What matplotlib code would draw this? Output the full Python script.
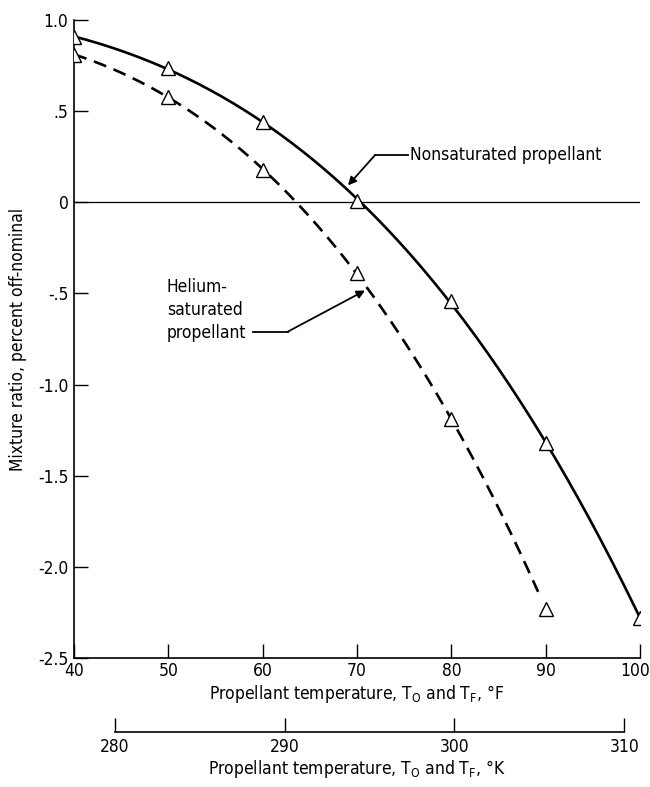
import numpy as np
import matplotlib.pyplot as plt
import matplotlib.transforms as mtransforms

plt.rcParams['font.family'] = ['DejaVu Sans']
plt.rcParams['font.stretch'] = 'condensed'
plt.rcParams['mathtext.default'] = 'regular'

# data
temp_F = [40, 50, 60, 70, 80, 90, 100]
nonsat = [0.907, 0.736, 0.44, 0.005, -0.544, -1.32, -2.28]
temp_F_he = [40, 50, 60, 70, 80, 90]
helium = [0.81, 0.58, 0.176, -0.39, -1.19, -2.23]

yticks = [1.0, 0.5, 0, -0.5, -1.0, -1.5, -2.0, -2.5]
ytick_labels = ['1.0', '.5', '0', '-.5', '-1.0', '-1.5', '-2.0', '-2.5']
xticks = [40, 50, 60, 70, 80, 90, 100]
kticks = [280, 290, 300, 310]


def f_to_k(f):
	return (np.asarray(f) - 32.) * 5. / 9. + 273.15


fig = plt.figure(figsize=(6.5, 7.87), dpi=100)
ax = fig.add_axes([0.1138, 0.1639, 0.8708, 0.8107])

# smooth faired curves through the points
c1 = np.polyfit(temp_F, nonsat, 3)
xs1 = np.linspace(40, 100, 200)
ax.plot(xs1, np.polyval(c1, xs1), color='black', lw=1.9, zorder=3)

c2 = np.polyfit(temp_F_he, helium, 3)
xs2 = np.linspace(40, 89.2, 200)
ax.plot(xs2, np.polyval(c2, xs2), color='black', lw=1.9, ls=(0, (5, 3)), zorder=3)

ax.plot(temp_F, nonsat, ls='', marker='^', markersize=10, mfc='white', mec='black', mew=1.0, zorder=4)
ax.plot(temp_F_he, helium, ls='', marker='^', markersize=10, mfc='white', mec='black', mew=1.0, zorder=4)

ax.axhline(0, color='black', lw=0.9, zorder=2)

fs = 12.5
ax.set_xlim(40, 100)
ax.set_ylim(-2.5, 1.0)
ax.set_xticks(xticks)
ax.set_yticks(yticks)
ax.set_yticklabels(ytick_labels)
ax.tick_params(direction='in', length=10, width=1.0, labelsize=fs, pad=4)
ax.tick_params(axis='x', pad=3)
for s in ['top', 'right']:
	ax.spines[s].set_visible(False)
for s in ['left', 'bottom']:
	ax.spines[s].set_linewidth(1.2)

# keep the last x label inside the figure
lab = ax.get_xticklabels()[-1]
lab.set_transform(lab.get_transform() + mtransforms.ScaledTranslation(-5/100., 0, fig.dpi_scale_trans))

ax.set_xlabel('Propellant temperature, $T_O$ and $T_F$, \u00b0F', fontsize=fs, labelpad=2)
ax.set_ylabel('Mixture ratio, percent off-nominal', fontsize=fs, labelpad=8)

# annotations
ax.annotate('', xy=(69.05, 0.093), xytext=(71.9, 0.258),
	arrowprops=dict(arrowstyle='-|>', color='black', lw=1.3, mutation_scale=12, shrinkA=0, shrinkB=0))
ax.plot([71.9, 75.4], [0.258, 0.258], color='black', lw=1.3)
ax.text(75.6, 0.258, 'Nonsaturated propellant', fontsize=fs, ha='left', va='center')

ax.annotate('', xy=(70.85, -0.484), xytext=(62.69, -0.709),
	arrowprops=dict(arrowstyle='-|>', color='black', lw=1.3, mutation_scale=12, shrinkA=0, shrinkB=0))
ax.plot([58.98, 62.69], [-0.709, -0.709], color='black', lw=1.3)
ax.text(49.86, -0.593, 'Helium-\nsaturated\npropellant', fontsize=fs, ha='left', va='center', linespacing=1.35)

# Kelvin scale below
axk = fig.add_axes([0.1138, 0.0699, 0.8708, 0.001])
axk.set_xlim(f_to_k(40), f_to_k(100))
axk.set_ylim(0, 1)
axk.patch.set_visible(False)
for s in ['top', 'right', 'left']:
	axk.spines[s].set_visible(False)
axk.spines['bottom'].set_bounds(280, 310)
axk.spines['bottom'].set_linewidth(1.2)
axk.set_yticks([])
axk.set_xticks(kticks)
axk.tick_params(axis='x', direction='in', length=10, width=1.0, labelsize=fs, pad=4)
axk.set_xlabel('Propellant temperature, $T_O$ and $T_F$, \u00b0K', fontsize=fs, labelpad=2)

plt.savefig('out.png', dpi=100)
